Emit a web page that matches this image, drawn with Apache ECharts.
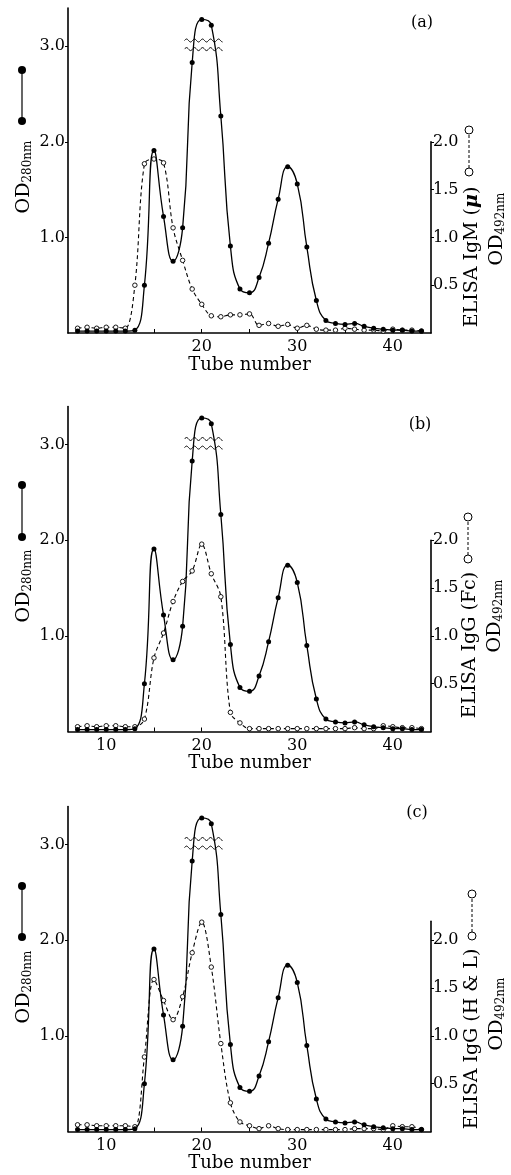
<!DOCTYPE html>
<html>
<head>
<meta charset="utf-8">
<script src="https://cdn.jsdelivr.net/npm/echarts@6/dist/echarts.min.js"></script>
<style>
  html, body { margin: 0; padding: 0; background: #fff; }
  #chart { width: 511px; height: 1175px; }
</style>
</head>
<body>
<div id="chart"></div>
<script>
// tube numbers (x)
var tubes = [7, 8, 9, 10, 11, 12, 13, 14, 15, 16, 17, 18, 19, 20, 21, 22, 23, 24, 25,
  26, 27, 28, 29, 30, 31, 32, 33, 34, 35, 36, 37, 38, 39, 40, 41, 42, 43];
// OD 280nm, same profile in the three panels (filled circles)
var od280 = [0.02, 0.02, 0.02, 0.02, 0.02, 0.02, 0.03, 0.50, 1.91, 1.22, 0.75, 1.10, 2.83,
  3.28, 3.22, 2.27, 0.91, 0.46, 0.42, 0.58, 0.94, 1.40, 1.74, 1.56, 0.90, 0.34, 0.13,
  0.10, 0.09, 0.10, 0.07, 0.05, 0.04, 0.03, 0.03, 0.02, 0.02];
// ELISA OD 492nm (open circles)
var elisaIgM = [0.05, 0.06, 0.05, 0.06, 0.06, 0.05, 0.50, 1.77, 1.82, 1.78, 1.10, 0.76, 0.46,
  0.30, 0.18, 0.17, 0.19, 0.19, 0.20, 0.08, 0.10, 0.07, 0.09, 0.05, 0.08, 0.04, 0.03,
  0.03, 0.05, 0.04, 0.03, 0.03, 0.02, 0.04, 0.03, 0.03, 0.02];
var elisaFc = [0.05, 0.06, 0.05, 0.06, 0.06, 0.05, 0.05, 0.13, 0.77, 1.03, 1.36, 1.57, 1.68,
  1.96, 1.65, 1.41, 0.20, 0.09, 0.03, 0.03, 0.03, 0.03, 0.03, 0.03, 0.03, 0.03, 0.03,
  0.03, 0.03, 0.04, 0.03, 0.03, 0.06, 0.05, 0.04, 0.04, 0.03];
var elisaHL = [0.07, 0.07, 0.06, 0.06, 0.06, 0.06, 0.05, 0.78, 1.59, 1.37, 1.17, 1.41, 1.87,
  2.19, 1.72, 0.92, 0.30, 0.10, 0.06, 0.03, 0.06, 0.03, 0.02, 0.02, 0.02, 0.02, 0.02,
  0.02, 0.02, 0.03, 0.03, 0.03, 0.02, 0.06, 0.05, 0.05, 0.02];

var panelLetters = ['(a)', '(b)', '(c)'];
var elisaSets = [elisaIgM, elisaFc, elisaHL];
var elisaNames = [
  '{m|ELISA IgM (}{i|μ}{m|)}',
  '{m|ELISA IgG (Fc)}',
  '{m|ELISA IgG (H & L)}'
];
var elisaMax = [2.0, 2.0, 2.2];
var odTicks = [1, 2, 3];
var elisaTicks = [0.5, 1, 1.5, 2];
var tubeTicks = [10, 15, 20, 25, 30, 35, 40];
var tubeLabelSets = [[20, 30, 40], [10, 20, 30, 40], [10, 20, 30, 40]];
// axis-break marks over the big peak
var breakTubes = [18.2, 22.2];
var breakLevels = [3.06, 2.97];

// layout
var FONT = 'DejaVu Serif';
var gridLeft = 68, gridRight = 80, gridH = 325, odMax = 3.4;
var gridTops = [8, 406.5, 806.5];
var unit = gridH / odMax;
var leftLegendY = [[70, 121], [485, 537], [886, 937]];
var leftTitleY = [177, 586, 987];
var rightLegend = [[469, 130, 172], [468, 517, 559], [472, 894, 936]];
var elisaTitlePos = [[472, 257], [470, 645], [472, 1039]];
var od492Pos = [[497, 229], [495, 616], [497, 1014]];
var letterPos = [[422, 23], [420, 425], [417, 813]];

function pairs(ys) {
  return tubes.map(function (t, k) { return [t, ys[k]]; });
}
function odRich() {
  return {
    m: { fontFamily: FONT, fontSize: 19, lineHeight: 20, color: '#000' },
    s: { fontFamily: FONT, fontSize: 12, lineHeight: 12, padding: [11, 0, 0, 0], verticalAlign: 'bottom', color: '#000' }
  };
}

var grids = [], xAxes = [], yAxes = [], series = [], graphics = [];

for (var i = 0; i < 3; i++) {
  var gTop = gridTops[i];
  var subH = elisaMax[i] * unit;
  grids.push({ left: gridLeft, right: gridRight, top: gTop, height: gridH });
  grids.push({ left: gridLeft, right: gridRight, top: gTop + gridH - subH, height: subH });

  xAxes.push({
    type: 'value', gridIndex: 2 * i, min: 6, max: 44,
    name: 'Tube number', nameLocation: 'middle', nameGap: 23,
    nameTextStyle: { fontFamily: FONT, fontSize: 18, color: '#000' },
    axisLine: { lineStyle: { color: '#000', width: 1.6 } },
    axisTick: { inside: true, length: 4, customValues: tubeTicks, lineStyle: { color: '#000' } },
    axisLabel: { customValues: tubeLabelSets[i], fontFamily: FONT, fontSize: 16, color: '#000', margin: 6 },
    splitLine: { show: false }
  });
  xAxes.push({ type: 'value', gridIndex: 2 * i + 1, min: 6, max: 44, show: false });

  yAxes.push({
    type: 'value', gridIndex: 2 * i, min: 0, max: odMax,
    axisLine: { show: true, lineStyle: { color: '#000', width: 1.6 } },
    axisTick: { show: true, length: 3, customValues: odTicks, lineStyle: { color: '#000' } },
    axisLabel: {
      customValues: odTicks, fontFamily: FONT, fontSize: 16, color: '#000', margin: 3,
      formatter: function (v) { return v.toFixed(1); }
    },
    splitLine: { show: false }
  });
  yAxes.push({
    type: 'value', gridIndex: 2 * i + 1, position: 'right', min: 0, max: elisaMax[i],
    axisLine: { show: true, lineStyle: { color: '#000', width: 1.6 } },
    axisTick: { show: true, length: 3, customValues: elisaTicks, lineStyle: { color: '#000' } },
    axisLabel: {
      customValues: elisaTicks, fontFamily: FONT, fontSize: 16, color: '#000', margin: 2,
      formatter: function (v) { return v.toFixed(1); }
    },
    splitLine: { show: false }
  });

  series.push({
    type: 'line', xAxisIndex: 2 * i + 1, yAxisIndex: 2 * i + 1,
    data: pairs(elisaSets[i]), smooth: 0.35, clip: false,
    symbol: 'circle', symbolSize: 4.5, showAllSymbol: true,
    itemStyle: { color: '#fff', borderColor: '#000', borderWidth: 0.9 },
    lineStyle: { color: '#000', width: 1.1, type: [4, 3] },
    z: 2, animation: false
  });
  series.push({
    type: 'line', xAxisIndex: 2 * i, yAxisIndex: 2 * i,
    data: pairs(od280), smooth: 0.5, clip: false,
    symbol: 'circle', symbolSize: 5, showAllSymbol: true,
    itemStyle: { color: '#000' },
    lineStyle: { color: '#000', width: 1.3 },
    z: 3, animation: false
  });
  series.push({
    type: 'custom', xAxisIndex: 2 * i, yAxisIndex: 2 * i,
    data: breakLevels.map(function (v) { return [breakTubes[0], breakTubes[1], v]; }),
    encode: { x: [0, 1], y: 2 }, clip: false, z: 5, animation: false,
    renderItem: function (params, api) {
      var p0 = api.coord([api.value(0), api.value(2)]);
      var p1 = api.coord([api.value(1), api.value(2)]);
      var pts = [];
      for (var x = p0[0]; x <= p1[0]; x += 0.5) {
        pts.push([x, p0[1] - 1.5 * Math.sin((x - p0[0]) * 2 * Math.PI / 8)]);
      }
      return { type: 'polyline', shape: { points: pts }, style: { stroke: '#000', lineWidth: 1, fill: null } };
    }
  });

  // left legend: filled circles joined by a line
  var ly = leftLegendY[i];
  graphics.push({ type: 'line', shape: { x1: 22, y1: ly[0], x2: 22, y2: ly[1] }, style: { stroke: '#000', lineWidth: 1.2 } });
  graphics.push({ type: 'circle', shape: { cx: 22, cy: ly[0], r: 4 }, style: { fill: '#000' } });
  graphics.push({ type: 'circle', shape: { cx: 22, cy: ly[1], r: 4 }, style: { fill: '#000' } });
  graphics.push({
    type: 'text', x: 24, y: leftTitleY[i], rotation: Math.PI / 2,
    style: { text: '{m|OD}{s|280nm}', rich: odRich(), align: 'center', verticalAlign: 'middle' }
  });

  // right legend: open circles joined by a dashed line
  var rl = rightLegend[i];
  graphics.push({ type: 'line', shape: { x1: rl[0], y1: rl[1], x2: rl[0], y2: rl[2] }, style: { stroke: '#000', lineWidth: 1, lineDash: [3, 2] } });
  graphics.push({ type: 'circle', shape: { cx: rl[0], cy: rl[1], r: 4 }, style: { fill: '#fff', stroke: '#000', lineWidth: 1 } });
  graphics.push({ type: 'circle', shape: { cx: rl[0], cy: rl[2], r: 4 }, style: { fill: '#fff', stroke: '#000', lineWidth: 1 } });
  graphics.push({
    type: 'text', x: elisaTitlePos[i][0], y: elisaTitlePos[i][1], rotation: Math.PI / 2,
    style: {
      text: elisaNames[i], align: 'center', verticalAlign: 'middle',
      rich: {
        m: { fontFamily: FONT, fontSize: 19, color: '#000' },
        i: { fontFamily: FONT, fontSize: 19, fontStyle: 'italic', fontWeight: 'bold', color: '#000' }
      }
    }
  });
  graphics.push({
    type: 'text', x: od492Pos[i][0], y: od492Pos[i][1], rotation: Math.PI / 2,
    style: { text: '{m|OD}{s|492nm}', rich: odRich(), align: 'center', verticalAlign: 'middle' }
  });
  graphics.push({
    type: 'text', x: letterPos[i][0], y: letterPos[i][1],
    style: { text: panelLetters[i], fontFamily: FONT, fontSize: 16, fill: '#000', align: 'center', verticalAlign: 'middle' }
  });
}

var myChart = echarts.init(document.getElementById('chart'));
myChart.setOption({
  backgroundColor: '#fff',
  animation: false,
  grid: grids,
  xAxis: xAxes,
  yAxis: yAxes,
  series: series,
  graphic: graphics
});
</script>
</body>
</html>
